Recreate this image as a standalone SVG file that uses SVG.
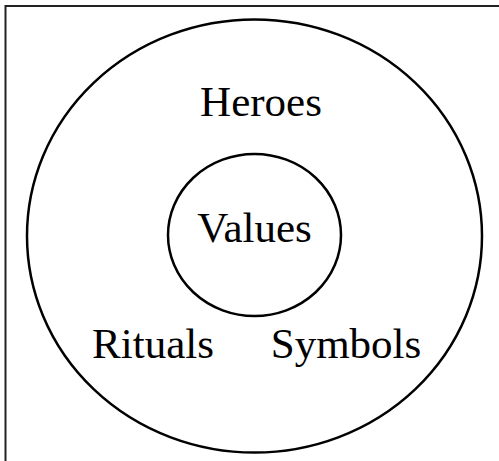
<svg xmlns="http://www.w3.org/2000/svg" width="499" height="461" viewBox="0 0 499 461">
<style>
.ring{fill:none;stroke:#000;stroke-width:2.5}
.lbl{font-family:"Liberation Serif","Times New Roman",serif;font-size:43px;fill:#000;text-anchor:middle}
</style>
<rect width="499" height="461" fill="#fff"/>
<path d="M5.5 461 V6 H499" fill="none" stroke="#222" stroke-width="2"/>
<g id="outer">
<ellipse class="ring" cx="254.5" cy="236" rx="227.5" ry="216.5"/>
<text class="lbl" x="261" y="116">Heroes</text>
<text class="lbl" x="153" y="358">Rituals</text>
<text class="lbl" x="346" y="358">Symbols</text>
</g>
<g id="inner">
<ellipse class="ring" cx="254.5" cy="235" rx="86.5" ry="81"/>
<text class="lbl" x="254.5" y="242">Values</text>
</g>
<g id="connectors"></g>
</svg>
